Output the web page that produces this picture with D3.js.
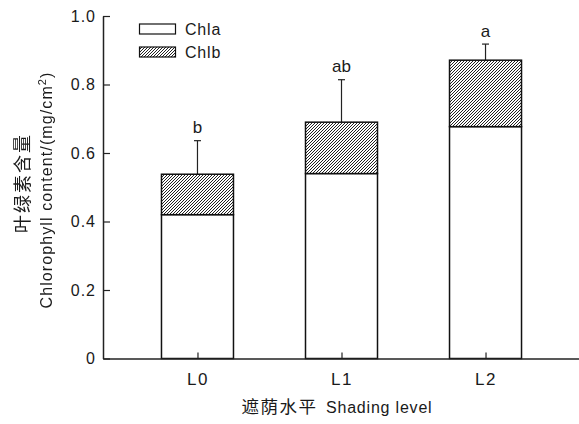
<!DOCTYPE html>
<html>
<head>
<meta charset="UTF-8">
<script src="https://d3js.org/d3.v7.min.js"></script>
<style>
  body { margin: 0; background: #fff; }
  text { font-family: "Liberation Sans", Arial, sans-serif; fill: #1a1a1a; }
  .cjk { font-family: "Noto Sans CJK SC", sans-serif; fill: #1a1a1a; }
  .gray { filter: grayscale(100%); }
</style>
</head>
<body>
<div id="chart"></div>
<script>
// data
const levels = ["L0", "L1", "L2"];
const chla = [0.42, 0.54, 0.677];
const chlb = [0.118, 0.15, 0.194];
const errs = [0.098, 0.124, 0.047];
const sigLetters = ["b", "ab", "a"];
const yTicks = [0, 0.2, 0.4, 0.6, 0.8, 1.0];

const width = 579, height = 424;
const svg = d3.select("#chart").append("svg")
  .attr("width", width).attr("height", height);

// 斜线填充
const defs = svg.append("defs");
const pat = defs.append("pattern")
  .attr("id", "hatch")
  .attr("patternUnits", "userSpaceOnUse")
  .attr("width", 3).attr("height", 3);
pat.append("rect").attr("width", 3).attr("height", 3).attr("fill", "#fff");
pat.append("path")
  .attr("d", "M0,3 L3,0 M-1,1 L1,-1 M2,4 L4,2")
  .attr("stroke", "#222").attr("stroke-width", 1);

const x0 = 103, x1 = 580, yBot = 358.5, yTop = 16;
const x = d3.scalePoint().domain(levels).range([x0, x1]).padding(0.656);
const y = d3.scaleLinear().domain([0, 1]).range([yBot, yTop]);
const barW = 72;

const g = svg.append("g");

levels.forEach((lv, i) => {
  const cx = x(lv);
  const total = chla[i] + chlb[i];
  // error bar
  g.append("line")
    .attr("x1", cx).attr("x2", cx)
    .attr("y1", y(total)).attr("y2", y(total + errs[i]))
    .attr("stroke", "#222").attr("stroke-width", 1.2);
  g.append("line")
    .attr("x1", cx - 3.5).attr("x2", cx + 3.5)
    .attr("y1", y(total + errs[i])).attr("y2", y(total + errs[i]))
    .attr("stroke", "#222").attr("stroke-width", 1.2);
  g.append("rect")
    .attr("x", cx - barW / 2).attr("width", barW)
    .attr("y", y(chla[i])).attr("height", y(0) - y(chla[i]))
    .attr("fill", "#fff").attr("stroke", "#111").attr("stroke-width", 1.5);
  g.append("rect")
    .attr("x", cx - barW / 2).attr("width", barW)
    .attr("y", y(total)).attr("height", y(chla[i]) - y(total))
    .attr("fill", "url(#hatch)").attr("stroke", "#111").attr("stroke-width", 1.5);
  g.append("text")
    .attr("x", cx).attr("y", y(total + errs[i]) - 7.5)
    .attr("text-anchor", "middle")
    .attr("font-size", 17)
    .text(sigLetters[i]);
});

// axes
const yAxis = d3.axisLeft(y).tickValues(yTicks).tickSizeInner(-7).tickSizeOuter(0).tickPadding(7)
  .tickFormat(d => d === 0 ? "0" : d3.format(".1f")(d));
const ya = svg.append("g").attr("transform", `translate(${x0},0)`).call(yAxis);
ya.select(".domain").attr("stroke", "#222").attr("stroke-width", 1.5);
ya.selectAll(".tick line").attr("stroke", "#222").attr("stroke-width", 1.2);
ya.selectAll(".tick text").attr("font-size", 16).attr("fill", "#1a1a1a")
  .attr("letter-spacing", 1)
  .style("font-family", '"Liberation Sans", Arial, sans-serif');

const xAxis = d3.axisBottom(x).tickSizeInner(-6).tickSizeOuter(0).tickPadding(14);
const xa = svg.append("g").attr("transform", `translate(0,${yBot})`).call(xAxis);
xa.select(".domain").attr("stroke", "#222").attr("stroke-width", 1.5);
xa.selectAll(".tick line").attr("stroke", "#222").attr("stroke-width", 1.2);
xa.selectAll(".tick text").attr("font-size", 17).attr("fill", "#1a1a1a")
  .attr("letter-spacing", 1.5)
  .style("font-family", '"Liberation Sans", Arial, sans-serif');

// axis titles
svg.append("text")
  .attr("class", "cjk")
  .attr("x", 241.5).attr("y", 413)
  .attr("font-size", 17.5).attr("letter-spacing", 1.5)
  .text("遮荫水平");
svg.append("text")
  .attr("x", 326).attr("y", 413)
  .attr("font-size", 16).attr("letter-spacing", 0.8)
  .text("Shading level");

const ytitle = svg.append("g").attr("class", "gray");
ytitle.append("text")
  .attr("class", "cjk")
  .attr("transform", "translate(29,183) rotate(-90)")
  .attr("text-anchor", "middle").attr("font-size", 18)
  .attr("letter-spacing", 2)
  .text("叶绿素含量");
const yl = ytitle.append("text")
  .attr("transform", "translate(52,190) rotate(-90)")
  .attr("text-anchor", "middle").attr("font-size", 16)
  .attr("letter-spacing", 1.1);
yl.append("tspan").text("Chlorophyll content/(mg/cm");
yl.append("tspan").attr("font-size", 11).attr("dy", -6).text("2");
yl.append("tspan").attr("dy", 6).text(")");

// legend
const legend = [["Chla", "#fff"], ["Chlb", "url(#hatch)"]];
legend.forEach((d, i) => {
  const ly = 24 + i * 23;
  svg.append("rect")
    .attr("x", 139.5).attr("y", ly).attr("width", 36).attr("height", 10)
    .attr("fill", d[1]).attr("stroke", "#111").attr("stroke-width", 1.2);
  svg.append("text")
    .attr("x", 185).attr("y", ly + 10.8).attr("font-size", 16)
    .attr("letter-spacing", 0.8)
    .text(d[0]);
});
</script>
</body>
</html>
